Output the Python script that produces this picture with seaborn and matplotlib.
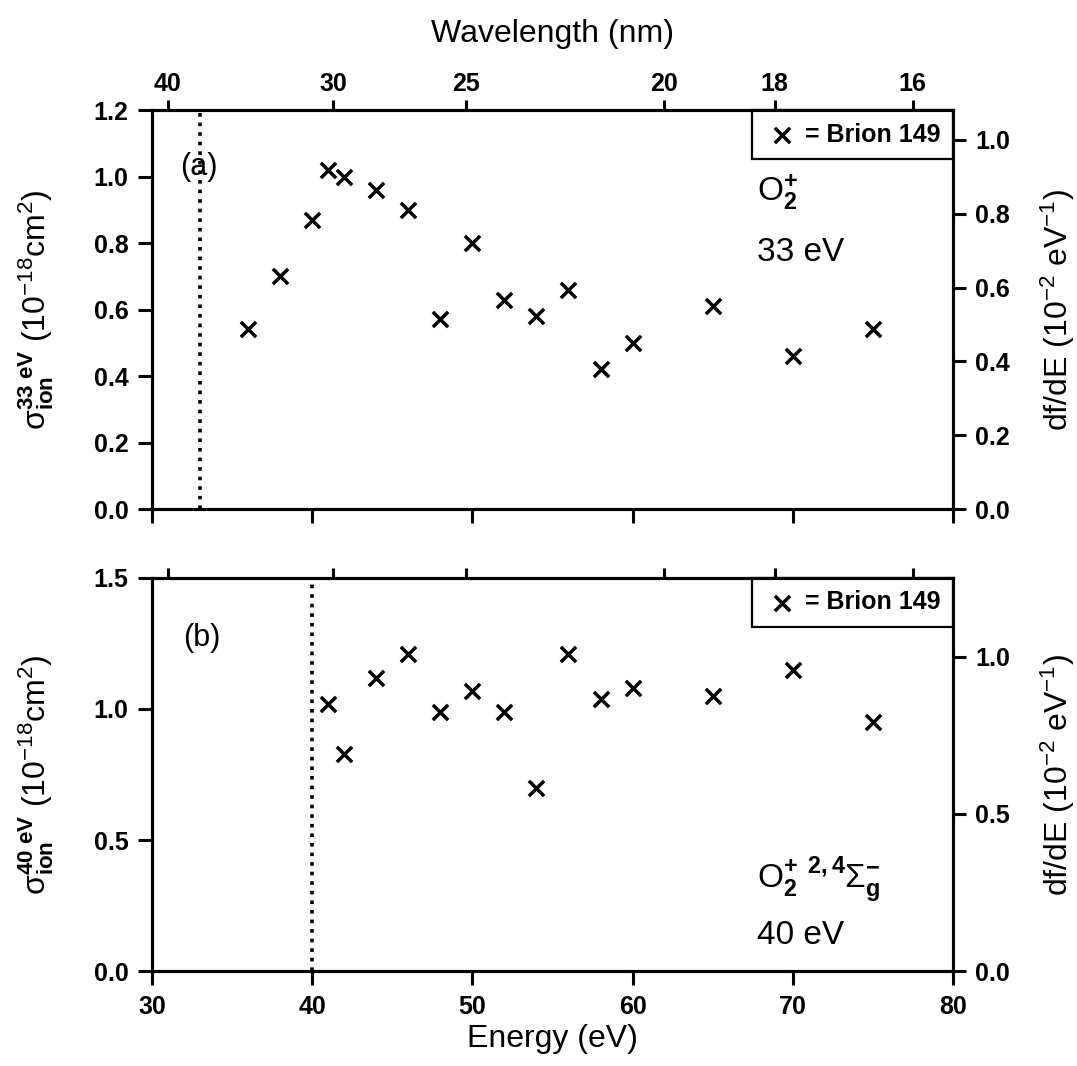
import matplotlib
matplotlib.use('Agg')
import matplotlib.pyplot as plt
import seaborn as sns

# photon energy (eV) <-> wavelength (nm)
HC = 1239.84

wavelength_ticks = [40, 30, 25, 20, 18, 16]

# (a) O2+ total, 33 eV normalisation
energy_a = [36, 38, 40, 41, 42, 44, 46, 48, 50, 52, 54, 56, 58, 60, 65, 70, 75]
sigma_a = [0.54, 0.70, 0.87, 1.02, 1.00, 0.96, 0.90, 0.57, 0.80, 0.63, 0.58,
           0.66, 0.42, 0.50, 0.61, 0.46, 0.54]
threshold_a = 33

# (b) O2+ 2,4Sigma_g- state, 40 eV normalisation
energy_b = [41, 42, 44, 46, 48, 50, 52, 54, 56, 58, 60, 65, 70, 75]
sigma_b = [1.02, 0.83, 1.12, 1.21, 0.99, 1.07, 0.99, 0.70, 1.21, 1.04, 1.08,
           1.05, 1.15, 0.95]
threshold_b = 40

energy_ticks = [30, 40, 50, 60, 70, 80]
left_ticks_a = [0.0, 0.2, 0.4, 0.6, 0.8, 1.0, 1.2]
right_ticks_a = [0.0, 0.2, 0.4, 0.6, 0.8, 1.0]
left_ticks_b = [0.0, 0.5, 1.0, 1.5]
right_ticks_b = [0.0, 0.5, 1.0]

sns.set_style('ticks')
plt.rcParams['font.family'] = ['Liberation Sans', 'DejaVu Sans']
plt.rcParams['mathtext.fontset'] = 'custom'
plt.rcParams['mathtext.rm'] = 'Liberation Sans'
plt.rcParams['mathtext.it'] = 'Liberation Sans'
plt.rcParams['mathtext.bf'] = 'Liberation Sans:bold'
plt.rcParams['mathtext.default'] = 'regular'
for key in ['text.color', 'axes.labelcolor', 'axes.edgecolor',
            'xtick.color', 'ytick.color']:
    plt.rcParams[key] = 'black'

LW = 2.2
TICK_FS = 18


def draw_panel(ax, energy, sigma, threshold, left_ticks, right_ticks, scale,
               ylabel, show_xlabels, show_wl_labels):
    sns.scatterplot(x=energy, y=sigma, ax=ax, marker='x', s=120, color='black',
                    linewidth=2.5, label='= Brion 149')
    ax.axvline(threshold, color='black', ls=':', lw=2.6)

    ax.set_xlim(30, 80)
    ax.set_ylim(left_ticks[0], left_ticks[-1])
    ax.set_xticks(energy_ticks, labels=[str(e) for e in energy_ticks],
                  fontweight='bold', fontsize=TICK_FS)
    ax.set_yticks(left_ticks, labels=['%.1f' % v for v in left_ticks],
                  fontweight='bold', fontsize=TICK_FS)
    ax.tick_params(axis='both', direction='out', length=10, width=LW, pad=7)
    ax.tick_params(axis='x', labelbottom=show_xlabels)
    ax.set_ylabel(ylabel, fontsize=23)
    ax.yaxis.set_label_coords(-0.12, 0.5)

    # right axis: oscillator strength density
    axr = ax.twinx()
    axr.set_ylim(left_ticks[0] / scale, left_ticks[-1] / scale)
    axr.set_yticks(right_ticks, labels=['%.1f' % v for v in right_ticks],
                   fontweight='bold', fontsize=TICK_FS)
    axr.tick_params(axis='y', direction='out', length=9, width=LW, pad=7)
    axr.set_ylabel(r'df/dE (10$^{-2}$ eV$^{-1}$)', fontsize=23)
    axr.yaxis.set_label_coords(1.107, 0.5)

    # top axis: wavelength
    axt = ax.twiny()
    axt.set_xlim(30, 80)
    axt.set_xticks([HC / w for w in wavelength_ticks],
                   labels=[str(w) for w in wavelength_ticks],
                   fontweight='bold', fontsize=TICK_FS)
    axt.tick_params(axis='x', direction='out', length=7, width=LW, pad=3,
                    labeltop=show_wl_labels)

    for a in (ax, axr, axt):
        for sp in a.spines.values():
            sp.set_visible(True)
            sp.set_linewidth(LW)

    leg = ax.legend(loc='upper right', borderaxespad=0, fancybox=False,
                    edgecolor='black', framealpha=1, handletextpad=0.2,
                    handlelength=1.4, borderpad=0.5,
                    prop={'weight': 'bold', 'size': 18})
    leg.get_frame().set_linewidth(1.6)
    return axr, axt


fig = plt.figure(figsize=(10.77, 10.66), dpi=100)
ax_a = fig.add_axes([0.1411, 0.5225, 0.7437, 0.3743])
ax_b = fig.add_axes([0.1411, 0.0891, 0.7437, 0.3687])

_, axt_a = draw_panel(ax_a, energy_a, sigma_a, threshold_a, left_ticks_a,
                      right_ticks_a, 1.11,
                      r'$\sigma_{\mathbf{ion}}^{\mathbf{33\ eV}}$ (10$^{-18}$cm$^{2}$)',
                      False, True)
axt_a.set_xlabel('Wavelength (nm)', fontsize=23)
axt_a.xaxis.set_label_coords(0.5, 1.17)

draw_panel(ax_b, energy_b, sigma_b, threshold_b, left_ticks_b, right_ticks_b,
           1.2,
           r'$\sigma_{\mathbf{ion}}^{\mathbf{40\ eV}}$ (10$^{-18}$cm$^{2}$)',
           True, False)
ax_b.set_xlabel('Energy (eV)', fontsize=23)
ax_b.xaxis.set_label_coords(0.5, -0.135)

# panel annotations
ax_a.text(32.9, 1.03, '(a)', fontsize=22, ha='center', va='center')
ax_a.text(67.8, 0.925, r'O$_\mathbf{2}^\mathbf{+}$', fontsize=24, va='baseline')
ax_a.text(67.8, 0.745, '33 eV', fontsize=24, va='baseline')

ax_b.text(33.1, 1.27, '(b)', fontsize=22, ha='center', va='center')
ax_b.text(67.8, 0.315, r'O$_\mathbf{2}^\mathbf{+\;\;2,4}\Sigma_\mathbf{g}^\mathbf{-}$',
          fontsize=24, va='baseline')
ax_b.text(67.8, 0.105, '40 eV', fontsize=24, va='baseline')

fig.savefig('out.png', dpi=100)
